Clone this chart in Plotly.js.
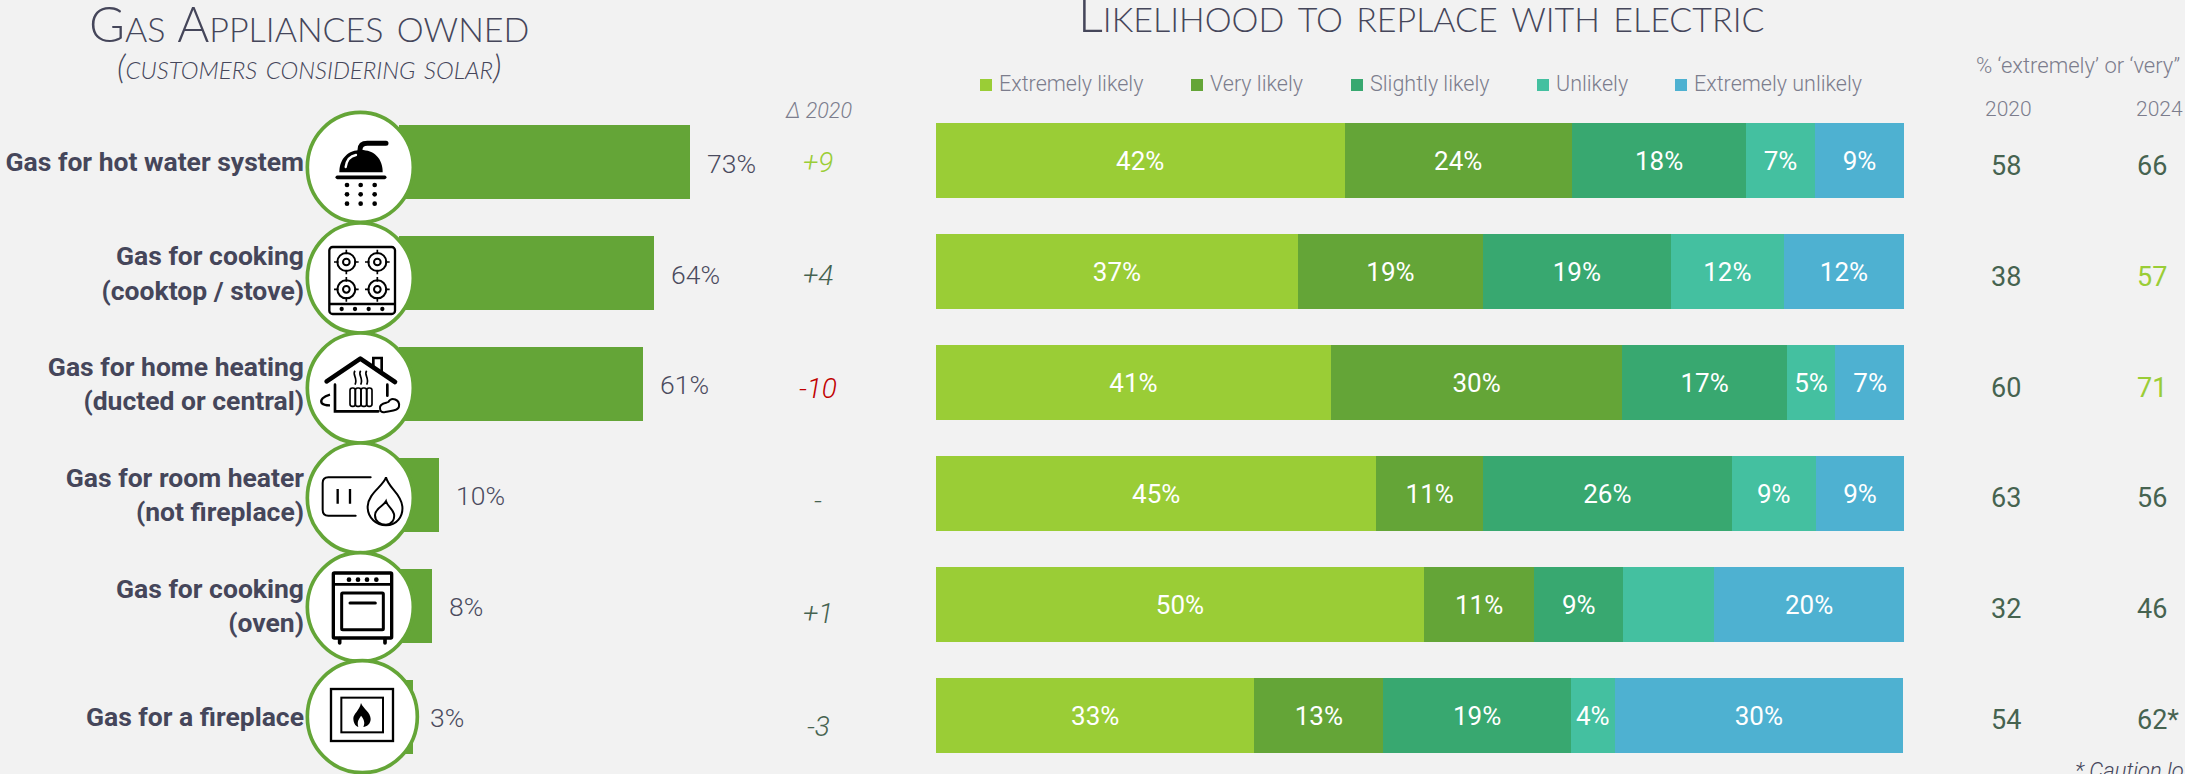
<!DOCTYPE html>
<html>
<head>
<meta charset="utf-8">
<script src="https://cdn.plot.ly/plotly-3.0.1.min.js"></script>
<style>html,body{margin:0;padding:0;background:#f2f2f2;overflow:hidden}</style>
</head>
<body>
<div id="chart" style="width:2185px;height:774px"></div>
<script>
const categories = ["Gas for hot water system","Gas for cooking<br>(cooktop / stove)","Gas for home heating<br>(ducted or central)","Gas for room heater<br>(not fireplace)","Gas for cooking<br>(oven)","Gas for a fireplace"];
const owned = [73,64,61.2,10,8.3,3.4];
const delta2020 = ["+9","+4","-10","-","+1","-3"];
const deltaColours = ["#9acd36","#466350","#c00000","#466350","#466350","#466350"];
const seriesNames = ["Extremely likely","Very likely","Slightly likely","Unlikely","Extremely unlikely"];
const seriesColours = ["#9acd36","#64a537","#38a870","#44c0a0","#4eb1d1"];
const extremelyLikely = [42.2,37.4,40.8,45.5,50.4,32.9];
const veryLikely = [23.5,19.1,30.1,11.0,11.4,13.3];
const slightlyLikely = [18.0,19.4,17.0,25.7,9.2,19.4];
const unlikely = [7.1,11.7,5.0,8.7,9.4,4.5];
const extremelyUnlikely = [9.2,12.4,7.2,9.1,19.6,29.8];
const labelsExtremely = ["42%","37%","41%","45%","50%","33%"];
const labelsVery = ["24%","19%","30%","11%","11%","13%"];
const labelsSlightly = ["18%","19%","17%","26%","9%","19%"];
const labelsUnlikely = ["7%","12%","5%","9%","","4%"];
const labelsExtremelyUn = ["9%","12%","7%","9%","20%","30%"];
const top2020 = ["58","38","60","63","32","54"];
const top2024 = ["66","57","71","56","46","62*"];
const top2024Colours = ["#466350","#9acd36","#9acd36","#466350","#466350","#466350"];

const W = 2185, H = 774;
const px = v => v / W, py = v => 1 - v / H;
const BODY = "Roboto", TITLE = "Lato";
const INK = "#45465a", GREY = "#7c7d8d", GREEN = "#64a537";

/* ---------- icons (decoration, drawn in a 375-unit box covering 125px) ---------- */
const ring = (cx, cy, rx, ry) => `<ellipse cx="${cx}" cy="${cy}" rx="${rx}" ry="${ry}" fill="#fff" stroke="${GREEN}" stroke-width="11"/>`;
const dots = (xs, ys, r) => xs.flatMap(x => ys.map(y => `<circle cx="${x}" cy="${y}" r="${r}" fill="#000"/>`)).join("");
const burner = (cx, cy) => `<circle cx="${cx}" cy="${cy}" r="27" fill="none" stroke="#000" stroke-width="6"/><circle cx="${cx}" cy="${cy}" r="10" fill="none" stroke="#000" stroke-width="6"/>` +
  `<path d="M${cx-37} ${cy}h14M${cx+23} ${cy}h14M${cx} ${cy-37}v14M${cx} ${cy+23}v14" stroke="#000" stroke-width="5"/>`;
const icons = [
  {top:105, svg: ring(181,187,159,165) +
    `<path d="M118 202C118 160 145 135 183 135C222 135 248 160 248 202Z" fill="#000"/>
     <path d="M137 186C140 166 150 153 168 150" fill="none" stroke="#fff" stroke-width="7" stroke-linecap="round"/>
     <path d="M180 135C180 122 188 115 202 115L258 115" fill="none" stroke="#000" stroke-width="15" stroke-linecap="round"/>
     <path d="M112 217H254" stroke="#000" stroke-width="11" stroke-linecap="round"/>` + dots([141,182,224],[240,268,296],7)},
  {top:218, svg: ring(181,180,159,165) +
    `<rect x="88" y="87" width="197" height="201" rx="10" fill="none" stroke="#000" stroke-width="7"/><path d="M88 258H285" stroke="#000" stroke-width="7"/>` +
    burner(139,132)+burner(232,132)+burner(139,214)+burner(232,214)+dots([125,165,206,247],[273],6.5)},
  {top:328, svg: ring(181,180,159,165) +
    `<path d="M220 118V90H245V140" fill="none" stroke="#000" stroke-width="8"/>
     <path d="M80 160L181 92L285 162" fill="none" stroke="#000" stroke-width="14" stroke-linecap="round" stroke-linejoin="round"/>
     <path d="M105 170V250H235M262 170V203" fill="none" stroke="#000" stroke-width="8" stroke-linecap="round"/>
     <path d="M90 200C70 205 60 215 65 225C70 232 80 232 90 232" fill="none" stroke="#000" stroke-width="7"/>
     <path d="M240 240C238 225 260 225 265 222C275 205 300 215 297 235C295 250 270 248 255 252C245 254 240 250 240 240Z" fill="none" stroke="#000" stroke-width="6"/>
     <path d="M165 128C155 140 175 150 165 170M182 128C172 140 192 150 182 170M200 128C190 140 210 150 200 170" fill="none" stroke="#000" stroke-width="5"/>
     <rect x="150" y="180" width="16" height="55" rx="7" fill="none" stroke="#000" stroke-width="5"/><rect x="166" y="180" width="17" height="55" rx="7" fill="none" stroke="#000" stroke-width="5"/>
     <rect x="183" y="180" width="17" height="55" rx="7" fill="none" stroke="#000" stroke-width="5"/><rect x="200" y="180" width="16" height="55" rx="7" fill="none" stroke="#000" stroke-width="5"/>`},
  {top:438, svg: ring(181,180,159,165) +
    `<path d="M212 118H85Q68 118 68 135V215Q68 233 85 233H167" fill="none" stroke="#000" stroke-width="6" stroke-linecap="round"/>
     <path d="M113 153V197M150 153V197" stroke="#000" stroke-width="7"/>
     <path d="M258 118C250 145 205 165 203 205C202 240 230 262 258 262C290 262 310 235 307 205C303 165 265 150 258 118Z" fill="none" stroke="#000" stroke-width="6"/>
     <path d="M258 190C250 205 225 210 225 232C225 250 240 260 258 260C275 260 285 245 282 228C278 212 262 205 258 190Z" fill="none" stroke="#000" stroke-width="6"/>`},
  {top:548, svg: ring(181,177,159,163) +
    `<rect x="100" y="75" width="175" height="195" rx="3" fill="none" stroke="#000" stroke-width="10"/><path d="M100 109H275" stroke="#000" stroke-width="8"/>` +
    dots([147,174,201,229],[95],7) +
    `<rect x="125" y="135" width="125" height="110" rx="3" fill="none" stroke="#000" stroke-width="9"/>
     <path d="M150 165H226" stroke="#000" stroke-width="9" stroke-linecap="round"/>
     <path d="M119 272V285M255 272V285" stroke="#000" stroke-width="11" stroke-linecap="round"/>`},
  {top:649, svg: ring(187,203,165,168) +
    `<rect x="93" y="120" width="186" height="156" fill="none" stroke="#000" stroke-width="7"/>
     <rect x="124" y="146" width="125" height="104" fill="none" stroke="#000" stroke-width="6"/>
     <path d="M183 162C190 180 212 190 212 210C212 225 200 233 190 234C197 220 190 208 183 200C178 210 170 215 175 234C165 232 160 220 160 208C160 195 178 185 183 162Z" fill="#000"/>`}
];
const images = icons.map(ic => ({
  source: "data:image/svg+xml;charset=utf-8," + encodeURIComponent(`<svg xmlns="http://www.w3.org/2000/svg" width="375" height="375" viewBox="0 0 375 375">${ic.svg}</svg>`),
  xref:"paper", yref:"paper", x:px(300), y:py(ic.top), sizex:125/W, sizey:125/H,
  xanchor:"left", yanchor:"top", sizing:"stretch", layer:"above"
}));

/* ---------- traces ---------- */
const rows = categories.map((_, i) => i);
const stackValues = [extremelyLikely, veryLikely, slightlyLikely, unlikely, extremelyUnlikely];
const stackLabels = [labelsExtremely, labelsVery, labelsSlightly, labelsUnlikely, labelsExtremelyUn];
const traces = [{
  type:"bar", orientation:"h", x:owned, y:categories, xaxis:"x", yaxis:"y", width:0.672,
  marker:{color:GREEN}, showlegend:false, hoverinfo:"x+y"
}].concat(seriesNames.map((name, s) => ({
  type:"bar", orientation:"h", name, x:stackValues[s], y:categories, xaxis:"x2", yaxis:"y2", width:0.672,
  marker:{color:seriesColours[s], line:{width:0}}, text:stackLabels[s], textposition:"inside", insidetextanchor:"middle",
  textangle:0, constraintext:"none", insidetextfont:{family:BODY, size:26, color:"#fff", weight:400}, showlegend:false
})));

/* ---------- text ---------- */
const note = (text, x, y, o = {}) => ({
  text, xref:"paper", yref:"paper", x:px(x), y:py(y), showarrow:false, xanchor:o.anchor || "center", yanchor:"middle",
  font:{family:o.family || BODY, size:o.size || 20, color:o.color || GREY, style:o.style || "normal", weight:o.weight || 400, variant:o.variant || "normal"}
});
const annotations = [
  note("Gas Appliances owned", 309, 23, {family:TITLE, size:49, color:INK, weight:300, variant:"small-caps"}),
  note("(customers considering solar)", 309, 65, {family:TITLE, size:34, color:INK, weight:300, style:"italic", variant:"small-caps"}),
  note("Likelihood to replace with electric", 1421, 13, {family:TITLE, size:49, color:INK, weight:300, variant:"small-caps"}),
  note("Δ 2020", 818, 110, {size:21.5, style:"italic", weight:300}),
  note("% ‘extremely’ or ‘very”", 2078, 65, {size:22, weight:300}),
  note("2020", 2008, 109, {size:21, weight:300}),
  note("2024", 2159, 109, {size:21, weight:300}),
  note("* Caution low base", 2073, 770, {anchor:"left", size:22, style:"italic", color:INK, weight:300})
];
owned.forEach((v, i) => annotations.push({
  text:Math.round(v) + "%", xref:"x", yref:"y", x:v, y:i, xanchor:"left", yanchor:"middle", xshift:15, yshift:-1, showarrow:false,
  font:{family:BODY, size:26.5, color:"#4a4b5e", weight:300}
}));
rows.forEach(i => {
  annotations.push(note(delta2020[i], 818, 163 + 112.6 * i, {size:28, style:"italic", color:deltaColours[i], weight:300}));
  annotations.push(note(top2020[i], 2006, 166.5 + 110.6 * i, {size:27, color:"#466350"}));
  annotations.push(note(top2024[i], top2024[i].length > 2 ? 2158 : 2152, 166.5 + 110.6 * i, {size:27, color:top2024Colours[i]}));
});

/* legend, placed to match the reference's uneven spacing */
const legendSwatchX = [980,1191,1351,1537,1675];
const shapes = seriesNames.map((_, s) => ({
  type:"rect", xref:"paper", yref:"paper", x0:px(legendSwatchX[s]), x1:px(legendSwatchX[s] + 12), y0:py(91), y1:py(79),
  fillcolor:seriesColours[s], line:{width:0}
}));
seriesNames.forEach((n, s) => annotations.push(note(n, legendSwatchX[s] + 17, 84, {anchor:"left", size:21.5, weight:300})));

const bare = {showgrid:false, zeroline:false, showline:false, showticklabels:false, ticks:""};
const layout = {
  width:W, height:H, margin:{l:0, r:0, t:0, b:0}, paper_bgcolor:"#f2f2f2", plot_bgcolor:"rgba(0,0,0,0)",
  barmode:"stack", showlegend:false, font:{family:BODY},
  xaxis:{...bare, domain:[px(305), px(797)], range:[(305-399)/3.98, (797-399)/3.98], anchor:"y"},
  yaxis:{...bare, domain:[1-772.4/H, 1-106.55/H], type:"category", categoryorder:"array", categoryarray:categories, range:[5.5,-0.5], anchor:"x",
    showticklabels:true, ticklabelposition:"outside", tickfont:{family:BODY, size:26.5, color:INK, weight:700}},
  xaxis2:{...bare, domain:[px(936), px(1904)], range:[0,100], anchor:"y2"},
  yaxis2:{...bare, domain:[1-771/H, 1-105/H], type:"category", categoryorder:"array", categoryarray:categories, range:[5.5,-0.5], anchor:"x2"},
  images, shapes, annotations
};
Plotly.newPlot("chart", traces, layout, {displayModeBar:false, responsive:false});
</script>
</body>
</html>
